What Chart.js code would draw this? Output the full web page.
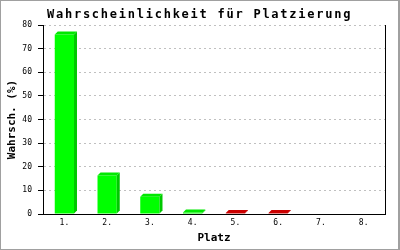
<!DOCTYPE html>
<html>
<head>
<meta charset="utf-8">
<script src="https://cdn.jsdelivr.net/npm/chart.js@4.4.1/dist/chart.umd.min.js"></script>
<style>
  html, body { margin: 0; padding: 0; background: #fff; }
</style>
</head>
<body>
<canvas id="chart_platz" width="400" height="250"></canvas>
<script>
var chartTitle = 'Wahrscheinlichkeit für Platzierung';
var platzLabels = ['1.', '2.', '3.', '4.', '5.', '6.', '7.', '8.'];
var platzValues = [76, 16.3, 7.3, 0.6, 0.4, 0.4, 0, 0];
var yTicks = [0, 10, 20, 30, 40, 50, 60, 70, 80];

var MONO = '"DejaVu Sans Mono", "Liberation Mono", monospace';

function barColor(i) {
    return i < 4 ? '#00ff00' : '#cc0000';
}
function sideColor(i) {
    return i < 4 ? '#00c800' : '#b00000';
}

// 3D look for the bars, plus frame, right edge and title
var decoPlugin = {
    id: 'deco',
    afterDatasetsDraw: function(chart) {
        var ctx = chart.ctx;
        var d = 3;
        chart.getDatasetMeta(0).data.forEach(function(bar, i) {
            if (!platzValues[i]) return;
            var p = bar.getProps(['x', 'y', 'base', 'width'], true);
            var l = p.x - p.width / 2, r = p.x + p.width / 2;
            ctx.save();
            ctx.fillStyle = sideColor(i);
            ctx.beginPath();
            ctx.moveTo(r, p.y);
            ctx.lineTo(r + d, p.y - d);
            ctx.lineTo(r + d, p.base - d);
            ctx.lineTo(r, p.base);
            ctx.closePath();
            ctx.fill();
            ctx.fillStyle = i < 4 ? '#00e800' : '#cc0000';
            ctx.beginPath();
            ctx.moveTo(l, p.y);
            ctx.lineTo(l + d, p.y - d);
            ctx.lineTo(r + d, p.y - d);
            ctx.lineTo(r, p.y);
            ctx.closePath();
            ctx.fill();
            ctx.restore();
        });
    },
    afterDraw: function(chart) {
        var ctx = chart.ctx;
        var a = chart.chartArea;
        ctx.save();
        ctx.strokeStyle = '#000';
        ctx.lineWidth = 1;
        ctx.beginPath();
        ctx.moveTo(Math.round(a.right) + 0.5, a.top);
        ctx.lineTo(Math.round(a.right) + 0.5, a.bottom);
        ctx.stroke();

        ctx.strokeStyle = '#a0a0a0';
        ctx.strokeRect(0.5, 0.5, 399, 249);
        ctx.beginPath();
        ctx.moveTo(398.5, 0);
        ctx.lineTo(398.5, 250);
        ctx.stroke();

        // wide bitmap-like title: stretch to ~305px
        ctx.fillStyle = '#000';
        ctx.font = 'bold 12px ' + MONO;
        ctx.letterSpacing = '0px';
        var w0 = ctx.measureText(chartTitle).width;
        var sp = Math.max(0, (305 - w0) / chartTitle.length);
        ctx.letterSpacing = sp.toFixed(2) + 'px';
        ctx.textAlign = 'left';
        ctx.textBaseline = 'alphabetic';
        ctx.fillText(chartTitle, 47, 18);
        ctx.letterSpacing = '0px';
        ctx.restore();
    }
};

var chart_platz = new Chart(document.getElementById('chart_platz'), {
    type: 'bar',
    data: {
        labels: platzLabels,
        datasets: [{
            label: 'Wahrsch.',
            data: platzValues,
            backgroundColor: platzValues.map(function(v, i) { return barColor(i); }),
            borderWidth: 0,
            barPercentage: 0.45,
            categoryPercentage: 1
        }]
    },
    options: {
        responsive: false,
        animation: false,
        layout: {
            padding: { top: 25, right: 15, left: 0, bottom: 0 }
        },
        plugins: {
            legend: { display: false },
            tooltip: { enabled: false }
        },
        scales: {
            x: {
                grid: { display: false, drawTicks: false },
                border: { color: '#000', width: 1 },
                ticks: {
                    color: '#000',
                    padding: 4,
                    font: { family: MONO, size: 8 }
                },
                title: {
                    display: true,
                    text: 'Platz',
                    color: '#000',
                    font: { family: MONO, size: 11, weight: 'bold', lineHeight: 1 },
                    padding: { top: 0, bottom: 6 }
                },
                afterFit: function(scale) { scale.height = 36; }
            },
            y: {
                min: 0,
                max: 80,
                afterBuildTicks: function(scale) {
                    scale.ticks = yTicks.map(function(v) { return { value: v }; });
                },
                grid: {
                    color: '#c0c0c0',
                    tickColor: '#000',
                    tickLength: 5,
                    tickBorderDash: [],
                    drawOnChartArea: true
                },
                border: { color: '#000', width: 1, dash: [2, 3] },
                ticks: {
                    color: '#000',
                    padding: 6,
                    font: { family: MONO, size: 8 }
                },
                title: {
                    display: true,
                    text: 'Wahrsch. (%)',
                    color: '#000',
                    font: { family: MONO, size: 11, weight: 'bold', lineHeight: 1 },
                    padding: { top: 7, bottom: 0 }
                },
                afterFit: function(scale) { scale.width = 43; }
            }
        }
    },
    plugins: [decoPlugin]
});
</script>
</body>
</html>
